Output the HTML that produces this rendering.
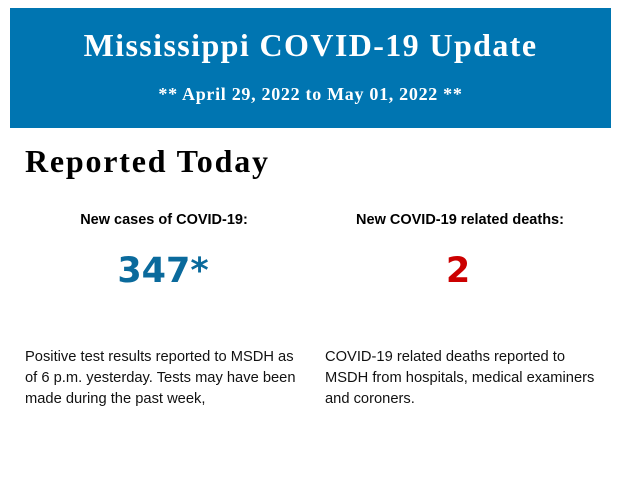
<!DOCTYPE html>
<html><head><style>
body{margin:0;width:620px;height:483px;background:#fff;position:relative;overflow:hidden}
.hdr{position:absolute;left:10px;top:8px;width:601px;height:120px;background:#0075b1;color:#fff;text-align:center;font-family:"Liberation Serif",serif;font-weight:bold}
.t1{position:absolute;left:0;right:0;top:19px;font-size:32px;line-height:36px;letter-spacing:1.4px}
.t2{position:absolute;left:0;right:0;top:75px;font-size:18px;line-height:22px;letter-spacing:0.7px}
.rt{position:absolute;left:25px;top:143px;font-family:"Liberation Serif",serif;font-weight:bold;font-size:32px;line-height:36px;color:#000;letter-spacing:1.8px}
.lab{position:absolute;top:212px;font-family:"Liberation Sans",sans-serif;font-weight:bold;font-size:14.5px;text-align:center;width:300px}
.num{position:absolute;top:250px;font-family:"DejaVu Sans",sans-serif;font-weight:bold;font-size:35px;line-height:42px;text-align:center;width:300px}
.p{position:absolute;top:347px;font-family:"Liberation Sans",sans-serif;font-size:14.7px;line-height:21px;color:#111;width:275px}
</style></head><body>
<div class="hdr"><div class="t1">Mississippi COVID-19 Update</div><div class="t2">** April 29, 2022 to May 01, 2022 **</div></div>
<div class="rt">Reported Today</div>
<div class="lab" style="left:14px">New cases of COVID-19:</div>
<div class="lab" style="left:310px">New COVID-19 related deaths:</div>
<div class="num" style="left:13px;color:#0a6a9c">347*</div>
<div class="num" style="left:308px;color:#cc0000">2</div>
<div class="p" style="left:25px">Positive test results reported to MSDH as of 6 p.m. yesterday. Tests may have been made during the past week,</div>
<div class="p" style="left:325px">COVID-19 related deaths reported to MSDH from hospitals, medical examiners and coroners.</div>
</body></html>
